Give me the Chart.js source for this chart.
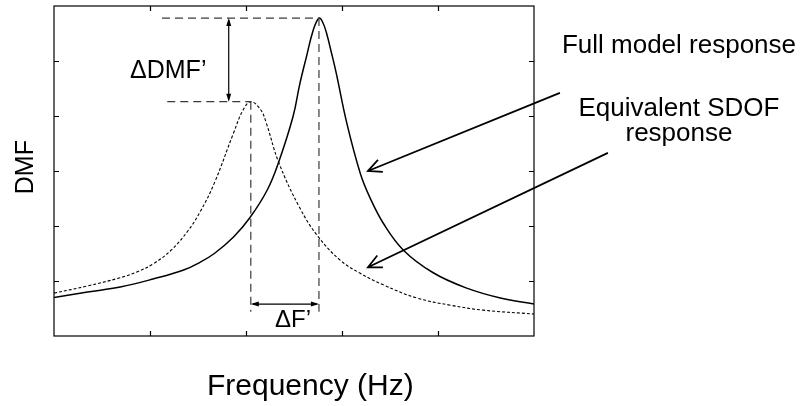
<!DOCTYPE html>
<html lang="en">
<head>
<meta charset="UTF-8" />
<title>DMF vs Frequency</title>
<script src="https://cdn.jsdelivr.net/npm/chart.js"></script>
<style>
    html, body { margin: 0; padding: 0; background: #fff; }
</style>
</head>
<body>
<canvas id="chart" width="808" height="406"></canvas>

<script>
// axis units are arbitrary (no tick labels on the original)
const xTicks = [0, 1, 2, 3, 4, 5];
const yTicks = [0, 1, 2, 3, 4, 5, 6];

// full model response (solid)
const fullFreq = [0, 0.35, 0.69, 1.04, 1.35, 1.52, 1.67, 1.87, 2.04, 2.22, 2.34, 2.49, 2.56, 2.63, 2.70, 2.76,
                  2.80, 2.84, 2.89, 2.94, 3.05, 3.19, 3.29, 3.43, 3.64, 3.95, 4.30, 4.65, 5.0];
const fullDmf  = [0.70, 0.80, 0.89, 1.04, 1.20, 1.34, 1.50, 1.80, 2.15, 2.65, 3.16, 3.99, 4.58, 5.08, 5.56, 5.78,
                  5.70, 5.50, 5.15, 4.78, 3.87, 2.96, 2.52, 2.05, 1.56, 1.15, 0.87, 0.69, 0.58];

// equivalent SDOF response (dashed)
const sdofFreq = [0, 0.35, 0.69, 0.87, 1.04, 1.22, 1.39, 1.52, 1.67, 1.87, 1.97, 2.05, 2.15, 2.21, 2.34,
                  2.56, 2.75, 2.98, 3.19, 3.43, 3.78, 4.13, 4.47, 5.0];
const sdofDmf  = [0.78, 0.91, 1.06, 1.17, 1.32, 1.56, 1.90, 2.25, 2.78, 3.69, 4.11, 4.26, 4.12, 3.88, 3.16,
                  2.33, 1.81, 1.38, 1.14, 0.93, 0.69, 0.56, 0.47, 0.40];

// annotation anchors, in axis units
const guideStartTop = 1.125;
const guideStartLow = 1.18;
const guideBottom = 0.44;
const dmfArrowX = 1.82;
const dfArrowY = 0.58;
const fullArrow = [[5.27, 4.42], [3.27, 3.0]];
const sdofArrow = [[5.77, 3.33], [3.27, 1.25]];

function peakOf(xs, ys) {
    const i = ys.indexOf(Math.max(...ys));
    return { x: xs[i], y: ys[i] };
}

function toPoints(xs, ys) {
    return xs.map((v, i) => ({ x: v, y: ys[i] }));
}

const FONT = '"Liberation Sans", Arial, sans-serif';

function arrowHeadFilled(ctx, x1, y1, x2, y2, len, w) {
    const a = Math.atan2(y2 - y1, x2 - x1);
    ctx.beginPath();
    ctx.moveTo(x2, y2);
    ctx.lineTo(x2 - len * Math.cos(a) + w * Math.sin(a), y2 - len * Math.sin(a) - w * Math.cos(a));
    ctx.lineTo(x2 - len * Math.cos(a) - w * Math.sin(a), y2 - len * Math.sin(a) + w * Math.cos(a));
    ctx.closePath();
    ctx.fill();
}

function arrowOpen(ctx, x1, y1, x2, y2, len, spread) {
    const a = Math.atan2(y2 - y1, x2 - x1);
    ctx.beginPath();
    ctx.moveTo(x1, y1);
    ctx.lineTo(x2, y2);
    ctx.moveTo(x2 + len * Math.cos(a + Math.PI - spread), y2 + len * Math.sin(a + Math.PI - spread));
    ctx.lineTo(x2, y2);
    ctx.lineTo(x2 + len * Math.cos(a + Math.PI + spread), y2 + len * Math.sin(a + Math.PI + spread));
    ctx.stroke();
}

const annotPlugin = {
    id: 'annot',
    afterDraw(chart) {
        const { ctx, chartArea: a, scales: { x, y } } = chart;
        const px = v => x.getPixelForValue(v);
        const py = v => y.getPixelForValue(v);
        const pf = peakOf(fullFreq, fullDmf);
        const ps = peakOf(sdofFreq, sdofDmf);

        ctx.save();
        ctx.strokeStyle = '#000';
        ctx.fillStyle = '#000';

        // frame + inward ticks
        ctx.lineWidth = 1.2;
        ctx.strokeRect(a.left, a.top, a.right - a.left, a.bottom - a.top);
        ctx.beginPath();
        xTicks.slice(1, -1).forEach(t => {
            const X = Math.round(px(t)) + 0.5;
            ctx.moveTo(X, a.bottom); ctx.lineTo(X, a.bottom - 5);
            ctx.moveTo(X, a.top); ctx.lineTo(X, a.top + 5);
        });
        yTicks.slice(1, -1).forEach(t => {
            const Y = Math.round(py(t)) + 0.5;
            ctx.moveTo(a.left, Y); ctx.lineTo(a.left + 5, Y);
            ctx.moveTo(a.right, Y); ctx.lineTo(a.right - 5, Y);
        });
        ctx.stroke();

        // dashed guide lines
        ctx.strokeStyle = '#3a3a3a';
        ctx.lineWidth = 1.2;
        ctx.setLineDash([8, 5]);
        ctx.beginPath();
        ctx.moveTo(px(guideStartTop), py(pf.y)); ctx.lineTo(px(pf.x), py(pf.y));
        ctx.moveTo(px(guideStartLow), py(ps.y)); ctx.lineTo(px(ps.x), py(ps.y));
        ctx.moveTo(px(pf.x), py(pf.y)); ctx.lineTo(px(pf.x), py(guideBottom));
        ctx.moveTo(px(ps.x), py(ps.y)); ctx.lineTo(px(ps.x), py(guideBottom));
        ctx.stroke();
        ctx.setLineDash([]);

        // delta arrows
        ctx.strokeStyle = '#000';
        ctx.lineWidth = 1.2;
        const ax = px(dmfArrowX), ay1 = py(pf.y), ay2 = py(ps.y);
        ctx.beginPath(); ctx.moveTo(ax, ay1 + 2); ctx.lineTo(ax, ay2 - 2); ctx.stroke();
        arrowHeadFilled(ctx, ax, ay2, ax, ay1, 8, 2.5);
        arrowHeadFilled(ctx, ax, ay1, ax, ay2, 8, 2.5);
        const by = py(dfArrowY), bx1 = px(ps.x), bx2 = px(pf.x);
        ctx.beginPath(); ctx.moveTo(bx1 + 2, by); ctx.lineTo(bx2 - 2, by); ctx.stroke();
        arrowHeadFilled(ctx, bx2, by, bx1, by, 8, 2.5);
        arrowHeadFilled(ctx, bx1, by, bx2, by, 8, 2.5);

        // pointer arrows
        ctx.lineWidth = 1.8;
        arrowOpen(ctx, px(fullArrow[0][0]), py(fullArrow[0][1]), px(fullArrow[1][0]), py(fullArrow[1][1]), 15, 0.45);
        arrowOpen(ctx, px(sdofArrow[0][0]), py(sdofArrow[0][1]), px(sdofArrow[1][0]), py(sdofArrow[1][1]), 15, 0.45);

        // texts
        ctx.textAlign = 'center';
        ctx.textBaseline = 'alphabetic';
        ctx.font = '25px ' + FONT;
        ctx.fillText('\u0394DMF\u2019', px(1.19), py(4.69));
        ctx.font = '24px ' + FONT;
        ctx.fillText('\u0394F\u2019', px(2.49), py(0.16));
        ctx.font = '26px ' + FONT;
        ctx.fillText('Full model response', px(6.51), py(5.15));
        ctx.fillText('Equivalent SDOF', px(6.51), py(4.0));
        ctx.fillText('response', px(6.51), py(3.55));

        // axis titles
        ctx.font = '30px ' + FONT;
        ctx.fillText('Frequency (Hz)', px(2.67), a.bottom + 59);
        ctx.save();
        ctx.translate(33, py(3.07));
        ctx.rotate(-Math.PI / 2);
        ctx.font = '25px ' + FONT;
        ctx.fillText('DMF', 0, 0);
        ctx.restore();

        ctx.restore();
    }
};

new Chart(document.getElementById('chart'), {
    type: 'line',
    data: {
        datasets: [
            {
                label: 'Full model response',
                data: toPoints(fullFreq, fullDmf),
                borderColor: '#000',
                borderWidth: 1.5,
                pointRadius: 0,
                fill: false,
                tension: 0.4
            },
            {
                label: 'Equivalent SDOF response',
                data: toPoints(sdofFreq, sdofDmf),
                borderColor: '#000',
                borderWidth: 1.1,
                borderDash: [3, 2],
                pointRadius: 0,
                fill: false,
                tension: 0.4
            }
        ]
    },
    options: {
        responsive: false,
        animation: false,
        devicePixelRatio: 1,
        layout: { padding: { left: 54, right: 274, top: 6, bottom: 70 } },
        plugins: { legend: { display: false }, tooltip: { enabled: false } },
        scales: {
            x: { type: 'linear', display: false, min: 0, max: 5 },
            y: { type: 'linear', display: false, min: 0, max: 6 }
        }
    },
    plugins: [annotPlugin]
});
</script>
</body>
</html>
